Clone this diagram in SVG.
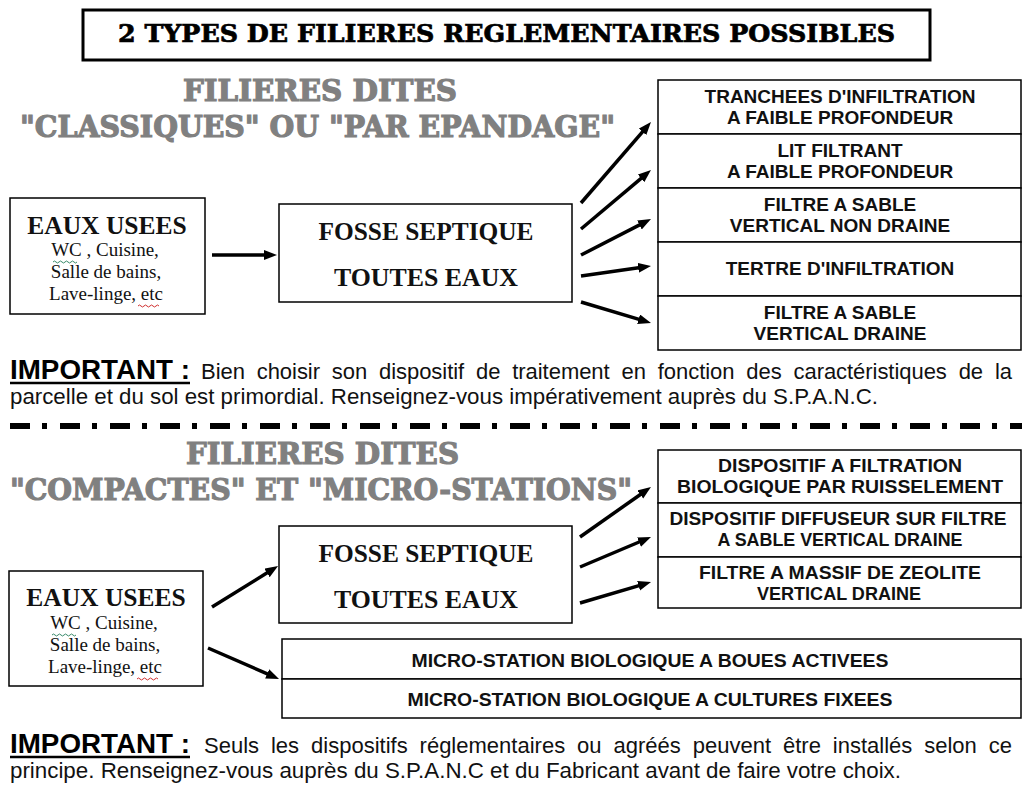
<svg xmlns="http://www.w3.org/2000/svg" width="1032" height="788" viewBox="0 0 1032 788">
<style>
.box{fill:#fff;stroke:#000;stroke-width:1.5}
.title{font-family:"DejaVu Serif","Liberation Serif",serif;font-weight:bold;font-size:24px;fill:#000;stroke:#000;stroke-width:0.7}
.head{font-family:"DejaVu Serif","Liberation Serif",serif;font-weight:bold;font-size:30px;fill:#808080;stroke:#808080;stroke-width:1.2}
.opt{font-family:"Liberation Sans",Arial,sans-serif;font-weight:bold;font-size:19px;fill:#111;text-anchor:middle}
.optn{font-family:"Liberation Sans",Arial,sans-serif;font-weight:bold;font-size:19px;fill:#111;text-anchor:middle}
.eaux{font-family:"Liberation Serif","Times New Roman",serif;font-weight:bold;font-size:25.5px;fill:#111;text-anchor:middle}
.small{font-family:"Liberation Serif","Times New Roman",serif;font-size:19px;fill:#111;text-anchor:middle}
.fosse{font-family:"Liberation Serif","Times New Roman",serif;font-weight:bold;font-size:25.5px;fill:#111;text-anchor:middle}
.imp{font-family:"Liberation Sans",Arial,sans-serif;font-weight:bold;font-size:27px;fill:#000}
.body{font-family:"Liberation Sans",Arial,sans-serif;font-size:22px;fill:#111}
.arrow{stroke:#000;stroke-width:3.5;fill:none;marker-end:url(#ah)}
</style>
<defs>
<marker id="ah" markerUnits="userSpaceOnUse" markerWidth="14" markerHeight="11" refX="4" refY="5" orient="auto">
<path d="M0,0 L13,5 L0,10 z" fill="#000"/>
</marker>
</defs>
<rect width="1032" height="788" fill="#fff"/>

<g id="title">
<rect x="83" y="10" width="847" height="50" fill="#fff" stroke="#000" stroke-width="3"/>
<text class="title" x="118" y="42" textLength="777" lengthAdjust="spacingAndGlyphs">2 TYPES DE FILIERES REGLEMENTAIRES POSSIBLES</text>
</g>

<g id="heading-classiques">
<text class="head" x="183" y="101" textLength="274" lengthAdjust="spacingAndGlyphs">FILIERES DITES</text>
<text class="head" x="20" y="137" textLength="595" lengthAdjust="spacingAndGlyphs">"CLASSIQUES" OU "PAR EPANDAGE"</text>
</g>

<g id="eaux-usees-1">
<rect class="box" x="10" y="198" width="195" height="116"/>
<text class="eaux" x="107" y="234">EAUX USEES</text>
<text class="small" x="105" y="256">WC , Cuisine,</text>
<text class="small" x="106" y="278">Salle de bains,</text>
<text class="small" x="106" y="300">Lave-linge, etc</text>
<path d="M53,262 q1.5,-2 3,0 t3,0 t3,0 t3,0 t3,0 t3,0 t3,0 t3,0" fill="none" stroke="#3a8a6a" stroke-width="1"/>
<path d="M138,306 q1.5,-2 3,0 t3,0 t3,0 t3,0 t3,0 t3,0 t3,0" fill="none" stroke="#d03030" stroke-width="1"/>
</g>

<g id="fosse-1">
<rect class="box" x="279" y="204" width="293" height="98"/>
<text class="fosse" x="426" y="240" textLength="215" lengthAdjust="spacingAndGlyphs">FOSSE SEPTIQUE</text>
<text class="fosse" x="426" y="286" textLength="184" lengthAdjust="spacingAndGlyphs">TOUTES EAUX</text>
</g>

<g id="filieres-classiques">
<rect class="box" x="658" y="80" width="363" height="54"/>
<text class="opt" x="840" y="103">TRANCHEES D'INFILTRATION</text>
<text class="opt" x="840" y="124">A FAIBLE PROFONDEUR</text>
<rect class="box" x="658" y="134" width="363" height="54"/>
<text class="opt" x="840" y="157">LIT FILTRANT</text>
<text class="opt" x="840" y="178">A FAIBLE PROFONDEUR</text>
<rect class="box" x="658" y="188" width="363" height="54"/>
<text class="opt" x="840" y="211">FILTRE A SABLE</text>
<text class="opt" x="840" y="232">VERTICAL NON DRAINE</text>
<rect class="box" x="658" y="242" width="363" height="54"/>
<text class="opt" x="840" y="275">TERTRE D'INFILTRATION</text>
<rect class="box" x="658" y="296" width="363" height="54"/>
<text class="opt" x="840" y="319">FILTRE A SABLE</text>
<text class="opt" x="840" y="340">VERTICAL DRAINE</text>
</g>

<g id="important-1">
<text class="imp" x="10" y="379" textLength="180" lengthAdjust="spacingAndGlyphs">IMPORTANT :</text>
<line x1="10" y1="383" x2="190" y2="383" stroke="#000" stroke-width="2.5"/>
<text class="body" x="201" y="379" word-spacing="5.8" textLength="811" lengthAdjust="spacing">Bien choisir son dispositif de traitement en fonction des caractéristiques de la</text>
<text class="body" x="10" y="404" textLength="868" lengthAdjust="spacingAndGlyphs">parcelle et du sol est primordial. Renseignez-vous impérativement auprès du S.P.A.N.C.</text>
</g>

<g id="separator">
<line x1="10" y1="426" x2="1022" y2="426" stroke="#000" stroke-width="6" stroke-dasharray="20 12 5 13"/>
</g>

<g id="heading-compactes">
<text class="head" x="186" y="464" textLength="273" lengthAdjust="spacingAndGlyphs">FILIERES DITES</text>
<text class="head" x="10" y="500" textLength="622" lengthAdjust="spacingAndGlyphs">"COMPACTES" ET "MICRO-STATIONS"</text>
</g>

<g id="filieres-compactes">
<rect class="box" x="658" y="450" width="363" height="53"/>
<text class="optn" x="840" y="472" textLength="244" lengthAdjust="spacingAndGlyphs">DISPOSITIF A FILTRATION</text>
<text class="optn" x="840" y="493" textLength="326" lengthAdjust="spacingAndGlyphs">BIOLOGIQUE PAR RUISSELEMENT</text>
<rect class="box" x="658" y="503" width="363" height="54"/>
<text class="optn" x="838" y="525" textLength="337" lengthAdjust="spacingAndGlyphs">DISPOSITIF DIFFUSEUR SUR FILTRE</text>
<text class="optn" x="840" y="546" textLength="245" lengthAdjust="spacingAndGlyphs">A SABLE VERTICAL DRAINE</text>
<rect class="box" x="658" y="557" width="363" height="51"/>
<text class="optn" x="840" y="579" textLength="282" lengthAdjust="spacingAndGlyphs">FILTRE A MASSIF DE ZEOLITE</text>
<text class="optn" x="839" y="600" textLength="164" lengthAdjust="spacingAndGlyphs">VERTICAL DRAINE</text>
</g>

<g id="eaux-usees-2">
<rect class="box" x="9" y="571" width="194" height="115"/>
<text class="eaux" x="106" y="606">EAUX USEES</text>
<text class="small" x="104" y="629">WC , Cuisine,</text>
<text class="small" x="105" y="651">Salle de bains,</text>
<text class="small" x="105" y="673">Lave-linge, etc</text>
<path d="M52,635 q1.5,-2 3,0 t3,0 t3,0 t3,0 t3,0 t3,0 t3,0 t3,0" fill="none" stroke="#3a8a6a" stroke-width="1"/>
<path d="M137,679 q1.5,-2 3,0 t3,0 t3,0 t3,0 t3,0 t3,0 t3,0" fill="none" stroke="#d03030" stroke-width="1"/>
</g>

<g id="fosse-2">
<rect class="box" x="279" y="526" width="293" height="97"/>
<text class="fosse" x="426" y="562" textLength="215" lengthAdjust="spacingAndGlyphs">FOSSE SEPTIQUE</text>
<text class="fosse" x="426" y="608" textLength="184" lengthAdjust="spacingAndGlyphs">TOUTES EAUX</text>
</g>

<g id="micro-stations">
<rect class="box" x="282" y="639" width="739" height="40"/>
<text class="optn" x="650" y="667" textLength="477" lengthAdjust="spacingAndGlyphs">MICRO-STATION BIOLOGIQUE A BOUES ACTIVEES</text>
<rect class="box" x="282" y="679" width="739" height="39"/>
<text class="optn" x="650" y="706" textLength="485" lengthAdjust="spacingAndGlyphs">MICRO-STATION BIOLOGIQUE A CULTURES FIXEES</text>
</g>

<g id="important-2">
<text class="imp" x="10" y="753" textLength="180" lengthAdjust="spacingAndGlyphs">IMPORTANT :</text>
<line x1="10" y1="757" x2="190" y2="757" stroke="#000" stroke-width="2.5"/>
<text class="body" x="204" y="753" word-spacing="5.8" textLength="808" lengthAdjust="spacing">Seuls les dispositifs réglementaires ou agréés peuvent être installés selon ce</text>
<text class="body" x="10" y="778" textLength="891" lengthAdjust="spacingAndGlyphs">principe. Renseignez-vous auprès du S.P.A.N.C et du Fabricant avant de faire votre choix.</text>
</g>

<g id="connectors">
<line class="arrow" x1="212" y1="255" x2="268" y2="255"/>
<line class="arrow" x1="581" y1="203" x2="645.1" y2="128.8"/>
<line class="arrow" x1="581" y1="229" x2="644.1" y2="175.8"/>
<line class="arrow" x1="581" y1="255" x2="643" y2="223.1"/>
<line class="arrow" x1="581" y1="276" x2="642.1" y2="267.3"/>
<line class="arrow" x1="581" y1="302" x2="642.4" y2="320.4"/>
<line class="arrow" x1="212" y1="607" x2="270.4" y2="570.8"/>
<line class="arrow" x1="208" y1="648" x2="270.8" y2="675.4"/>
<line class="arrow" x1="580" y1="537" x2="643.6" y2="492.2"/>
<line class="arrow" x1="580" y1="567" x2="642.7" y2="540.5"/>
<line class="arrow" x1="580" y1="603" x2="642.4" y2="584.6"/>
</g>
</svg>
